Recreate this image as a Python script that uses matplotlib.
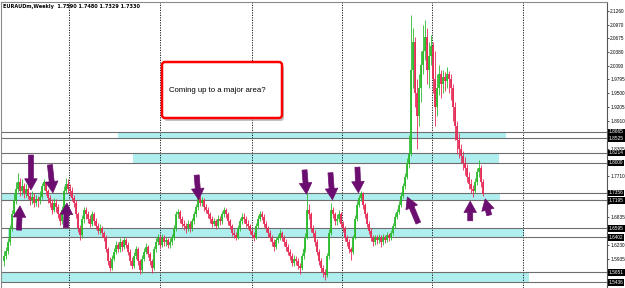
import numpy as np
import matplotlib.pyplot as plt
from matplotlib.patches import FancyBboxPatch
from matplotlib.transforms import IdentityTransform

# EURAUD weekly candles (close / high / low), open = previous close
open0 = 1.590
closes = [1.600, 1.612, 1.630, 1.660, 1.690, 1.720, 1.745, 1.760, 1.740, 1.750,
          1.735, 1.745, 1.730, 1.720, 1.728, 1.715, 1.722, 1.718, 1.728, 1.750,
          1.760, 1.740, 1.725, 1.715, 1.700, 1.715, 1.705, 1.690, 1.675, 1.700,
          1.740, 1.755, 1.745, 1.740, 1.725, 1.715, 1.690, 1.660, 1.645, 1.680,
          1.700, 1.690, 1.680, 1.670, 1.690, 1.675, 1.665, 1.655, 1.660, 1.650,
          1.640, 1.615, 1.590, 1.575, 1.595, 1.610, 1.625, 1.615, 1.630, 1.620,
          1.635, 1.625, 1.610, 1.590, 1.580, 1.600, 1.615, 1.590, 1.570, 1.595,
          1.610, 1.620, 1.605, 1.590, 1.575, 1.615, 1.630, 1.640, 1.625, 1.640,
          1.630, 1.635, 1.625, 1.630, 1.640, 1.660, 1.690, 1.695, 1.680, 1.670,
          1.665, 1.660, 1.670, 1.660, 1.675, 1.690, 1.705, 1.725, 1.715, 1.720,
          1.705, 1.700, 1.690, 1.680, 1.670, 1.675, 1.665, 1.680, 1.675, 1.690,
          1.700, 1.690, 1.675, 1.665, 1.650, 1.645, 1.640, 1.660, 1.675, 1.685,
          1.680, 1.670, 1.665, 1.655, 1.645, 1.640, 1.665, 1.680, 1.690, 1.685,
          1.670, 1.660, 1.650, 1.640, 1.630, 1.620, 1.635, 1.640, 1.650, 1.640,
          1.630, 1.620, 1.610, 1.600, 1.585, 1.595, 1.590, 1.580, 1.575, 1.600,
          1.615, 1.640, 1.700, 1.690, 1.660, 1.650, 1.630, 1.610, 1.590, 1.575,
          1.565, 1.560, 1.600, 1.650, 1.700, 1.690, 1.675, 1.680, 1.690, 1.670,
          1.660, 1.640, 1.630, 1.615, 1.610, 1.640, 1.680, 1.710, 1.725, 1.735,
          1.710, 1.690, 1.670, 1.655, 1.640, 1.630, 1.640, 1.635, 1.640, 1.630,
          1.640, 1.635, 1.645, 1.640, 1.650, 1.665, 1.685, 1.695, 1.710, 1.730,
          1.750, 1.770, 1.800, 1.820, 2.000, 2.060, 1.950, 1.900, 1.960, 2.010,
          2.040, 2.070, 2.000, 2.030, 2.050, 1.980, 1.920, 1.960, 1.990, 1.970,
          1.985, 1.975, 1.990, 1.980, 1.960, 1.920, 1.880, 1.850, 1.830, 1.815,
          1.800, 1.790, 1.770, 1.755, 1.745, 1.740, 1.760, 1.780, 1.790, 1.760,
          1.733]
highs = [1.612, 1.620, 1.640, 1.668, 1.700, 1.735, 1.760, 1.778, 1.768, 1.765,
         1.758, 1.755, 1.752, 1.738, 1.740, 1.735, 1.732, 1.730, 1.740, 1.758,
         1.765, 1.762, 1.745, 1.732, 1.722, 1.725, 1.722, 1.712, 1.695, 1.708,
         1.750, 1.768, 1.765, 1.755, 1.748, 1.732, 1.720, 1.695, 1.668, 1.688,
         1.705, 1.705, 1.698, 1.688, 1.698, 1.695, 1.682, 1.672, 1.670, 1.665,
         1.655, 1.645, 1.620, 1.598, 1.602, 1.618, 1.632, 1.630, 1.638, 1.635,
         1.642, 1.640, 1.630, 1.615, 1.598, 1.608, 1.622, 1.620, 1.595, 1.602,
         1.618, 1.628, 1.625, 1.610, 1.595, 1.622, 1.638, 1.648, 1.645, 1.648,
         1.645, 1.642, 1.640, 1.638, 1.648, 1.668, 1.698, 1.702, 1.700, 1.686,
         1.678, 1.672, 1.678, 1.676, 1.682, 1.698, 1.712, 1.732, 1.730, 1.728,
         1.725, 1.712, 1.706, 1.695, 1.686, 1.682, 1.680, 1.688, 1.686, 1.698,
         1.706, 1.704, 1.695, 1.680, 1.670, 1.658, 1.652, 1.668, 1.682, 1.692,
         1.692, 1.686, 1.678, 1.670, 1.660, 1.652, 1.672, 1.688, 1.698, 1.696,
         1.690, 1.676, 1.665, 1.656, 1.646, 1.636, 1.642, 1.648, 1.658, 1.655,
         1.646, 1.636, 1.626, 1.616, 1.606, 1.602, 1.600, 1.596, 1.586, 1.606,
         1.622, 1.650, 1.736, 1.712, 1.695, 1.668, 1.656, 1.636, 1.616, 1.596,
         1.582, 1.572, 1.606, 1.658, 1.714, 1.706, 1.695, 1.690, 1.700, 1.695,
         1.676, 1.665, 1.646, 1.636, 1.620, 1.646, 1.688, 1.718, 1.732, 1.740,
         1.738, 1.715, 1.695, 1.676, 1.660, 1.646, 1.646, 1.646, 1.648, 1.646,
         1.648, 1.646, 1.652, 1.650, 1.656, 1.672, 1.692, 1.702, 1.718, 1.738,
         1.758, 1.778, 1.810, 1.860, 2.117, 2.090, 2.070, 1.980, 1.990, 2.040,
         2.095, 2.107, 2.090, 2.060, 2.075, 2.060, 2.040, 1.990, 2.010, 2.000,
         2.000, 1.995, 2.005, 1.998, 1.990, 1.970, 1.930, 1.890, 1.865, 1.840,
         1.825, 1.812, 1.798, 1.780, 1.765, 1.752, 1.768, 1.790, 1.806, 1.795,
         1.765]
lows = [1.578, 1.595, 1.605, 1.625, 1.655, 1.685, 1.712, 1.738, 1.730, 1.732,
        1.725, 1.728, 1.722, 1.710, 1.712, 1.705, 1.708, 1.706, 1.712, 1.722,
        1.742, 1.732, 1.715, 1.705, 1.690, 1.695, 1.695, 1.682, 1.668, 1.670,
        1.695, 1.735, 1.735, 1.730, 1.718, 1.705, 1.682, 1.652, 1.635, 1.640,
        1.672, 1.680, 1.672, 1.662, 1.665, 1.668, 1.658, 1.648, 1.648, 1.642,
        1.632, 1.608, 1.582, 1.568, 1.570, 1.590, 1.605, 1.608, 1.610, 1.612,
        1.615, 1.618, 1.602, 1.582, 1.572, 1.575, 1.595, 1.582, 1.562, 1.565,
        1.590, 1.605, 1.598, 1.582, 1.565, 1.570, 1.610, 1.625, 1.618, 1.620,
        1.622, 1.622, 1.618, 1.618, 1.625, 1.635, 1.655, 1.682, 1.672, 1.662,
        1.656, 1.650, 1.655, 1.652, 1.655, 1.670, 1.685, 1.700, 1.708, 1.708,
        1.698, 1.692, 1.682, 1.672, 1.662, 1.664, 1.658, 1.660, 1.668, 1.670,
        1.684, 1.682, 1.668, 1.658, 1.643, 1.638, 1.634, 1.636, 1.655, 1.670,
        1.672, 1.662, 1.658, 1.648, 1.638, 1.632, 1.636, 1.660, 1.675, 1.678,
        1.662, 1.652, 1.642, 1.632, 1.622, 1.612, 1.615, 1.628, 1.634, 1.632,
        1.622, 1.612, 1.602, 1.592, 1.578, 1.580, 1.582, 1.572, 1.562, 1.570,
        1.595, 1.610, 1.636, 1.680, 1.652, 1.642, 1.622, 1.602, 1.582, 1.566,
        1.556, 1.548, 1.555, 1.595, 1.645, 1.682, 1.668, 1.668, 1.674, 1.662,
        1.652, 1.632, 1.622, 1.606, 1.592, 1.605, 1.636, 1.675, 1.705, 1.718,
        1.702, 1.682, 1.662, 1.648, 1.632, 1.622, 1.624, 1.626, 1.628, 1.620,
        1.624, 1.628, 1.630, 1.632, 1.634, 1.645, 1.660, 1.680, 1.690, 1.705,
        1.725, 1.745, 1.765, 1.790, 1.815, 1.960, 1.920, 1.830, 1.880, 1.930,
        1.990, 2.020, 1.970, 1.960, 2.010, 1.950, 1.880, 1.900, 1.945, 1.940,
        1.950, 1.955, 1.960, 1.950, 1.935, 1.890, 1.850, 1.820, 1.810, 1.800,
        1.785, 1.775, 1.760, 1.745, 1.735, 1.727, 1.735, 1.752, 1.770, 1.748,
        1.730]

# support / resistance zones (price)
zone_low = [1.8525, 1.8000, 1.7195, 1.6402, 1.5436]
zone_high = [1.8665, 1.8214, 1.7356, 1.6595, 1.5651]
zone_from = [57, 64.5, -1.5, 2, -1.5]
zone_to = [251.5, 248, 248.5, 260.5, 263]

price_ticks = [2.1260, 2.0970, 2.0675, 2.0380, 2.0090, 1.9795, 1.9500, 1.9205,
               1.8910, 1.8615, 1.8305, 1.8010, 1.7710, 1.7420, 1.7125, 1.6835,
               1.6530, 1.6230, 1.5935, 1.5640]
grid_x = [32.5, 78, 124, 169.5, 214.5, 260]

header = 'EURAUDm,Weekly  1.7590 1.7480 1.7329 1.7330'
note = 'Coming up to a major area?'

# arrows: (tail x, tail price, tip x, tip price)
arrows = [(13.5, 1.817, 13.5, 1.742), (23, 1.796, 24.5, 1.736),
          (96.5, 1.774, 97.5, 1.721), (150.5, 1.785, 151.5, 1.733),
          (163.5, 1.779, 164.5, 1.721), (177, 1.791, 177.5, 1.736),
          (7.5, 1.656, 8, 1.708), (31, 1.661, 31.5, 1.714),
          (207.5, 1.671, 202, 1.727), (233.5, 1.676, 233.5, 1.718),
          (243, 1.688, 241, 1.723)]

green = '#2cba2c'
red = '#e52a55'
purple = '#6c0e70'
axis_font = 'Liberation Sans'

fig = plt.figure(figsize=(6.25, 2.88), dpi=100)
ax = fig.add_axes([1 / 625, 0, 606 / 625, 1 - 2 / 288])
ax.set_xlim(-1.5, 302)
ax.set_ylim(1.5318, 2.1453)

# zones
for lo, hi, x0, x1 in zip(zone_low, zone_high, zone_from, zone_to):
    ax.fill_between([x0, x1], lo, hi, color='#afeeee', lw=0, zorder=1)
    ax.axhline(lo, color='#6e6e6e', lw=0.8, zorder=1.5)
    ax.axhline(hi, color='#6e6e6e', lw=0.8, zorder=1.5)

for gx in grid_x:
    ax.axvline(gx, color='black', lw=0.6, ls=(0, (1.5, 1.5)), zorder=1.2)

# candles
c = np.array(closes)
o = np.array([open0] + closes[:-1])
h = np.array(highs)
l = np.array(lows)
x = np.arange(len(c))
up = c >= o
dn = ~up
ax.vlines(x[up], l[up], h[up], color=green, lw=0.6, zorder=3)
ax.vlines(x[up], o[up], c[up], color=green, lw=1.3, zorder=3)
ax.vlines(x[dn], l[dn], h[dn], color=red, lw=0.6, zorder=3)
ax.vlines(x[dn], c[dn], o[dn], color=red, lw=1.3, zorder=3)

# arrows
for x0, y0, x1, y1 in arrows:
    ax.annotate('', xy=(x1, y1), xytext=(x0, y0),
                arrowprops=dict(arrowstyle='simple,head_width=1.0,head_length=0.9,tail_width=0.4',
                                fc=purple, ec=purple, lw=0.5, mutation_scale=9,
                                shrinkA=0, shrinkB=0), zorder=5)

# axis styling
for s in ['top', 'left']:
    ax.spines[s].set_color('#8a8a8a')
    ax.spines[s].set_linewidth(0.8)
ax.spines['right'].set_color('#555555')
ax.spines['right'].set_linewidth(0.8)
ax.spines['bottom'].set_visible(False)
ax.set_xticks([])
ax.yaxis.tick_right()
ax.set_yticks(price_ticks)
# labels that sit under a level box are hidden (the box covers them)
levels = zone_low + zone_high
ax.set_yticklabels(['' if min(abs(t - v) for v in levels) < 0.008 else f'{t:.4f}'
                    for t in price_ticks], family=axis_font)
ax.tick_params(axis='y', labelsize=3.4, length=1.5, width=0.5, pad=0.8, colors='black')

for lvl in levels:
    ax.text(1.003, lvl, f'{lvl:.4f}', transform=ax.get_yaxis_transform(),
            fontsize=3.4, family=axis_font, color='white', va='center', ha='left',
            zorder=10, bbox=dict(boxstyle='square,pad=0.18', fc='black', ec='none'),
            clip_on=False)

ax.text(0.003, 0.992, header, transform=ax.transAxes, fontsize=3.6,
        fontweight='bold', va='top', ha='left')

# note box with shadow
shadow = FancyBboxPatch((164, 167), 120, 56, boxstyle='round,pad=0,rounding_size=3',
                        transform=IdentityTransform(), fc='#9a9a9a', ec='none', alpha=0.6)
box = FancyBboxPatch((162, 170), 120, 56, boxstyle='round,pad=0,rounding_size=3',
                     transform=IdentityTransform(), fc='white', ec='#ff0000', lw=1.8)
fig.add_artist(shadow)
fig.add_artist(box)
fig.text(169 / 625, 1 - 91 / 288, note, fontsize=5.6, family='Liberation Sans',
         va='center', ha='left')

fig.savefig('out.png', dpi=100)
